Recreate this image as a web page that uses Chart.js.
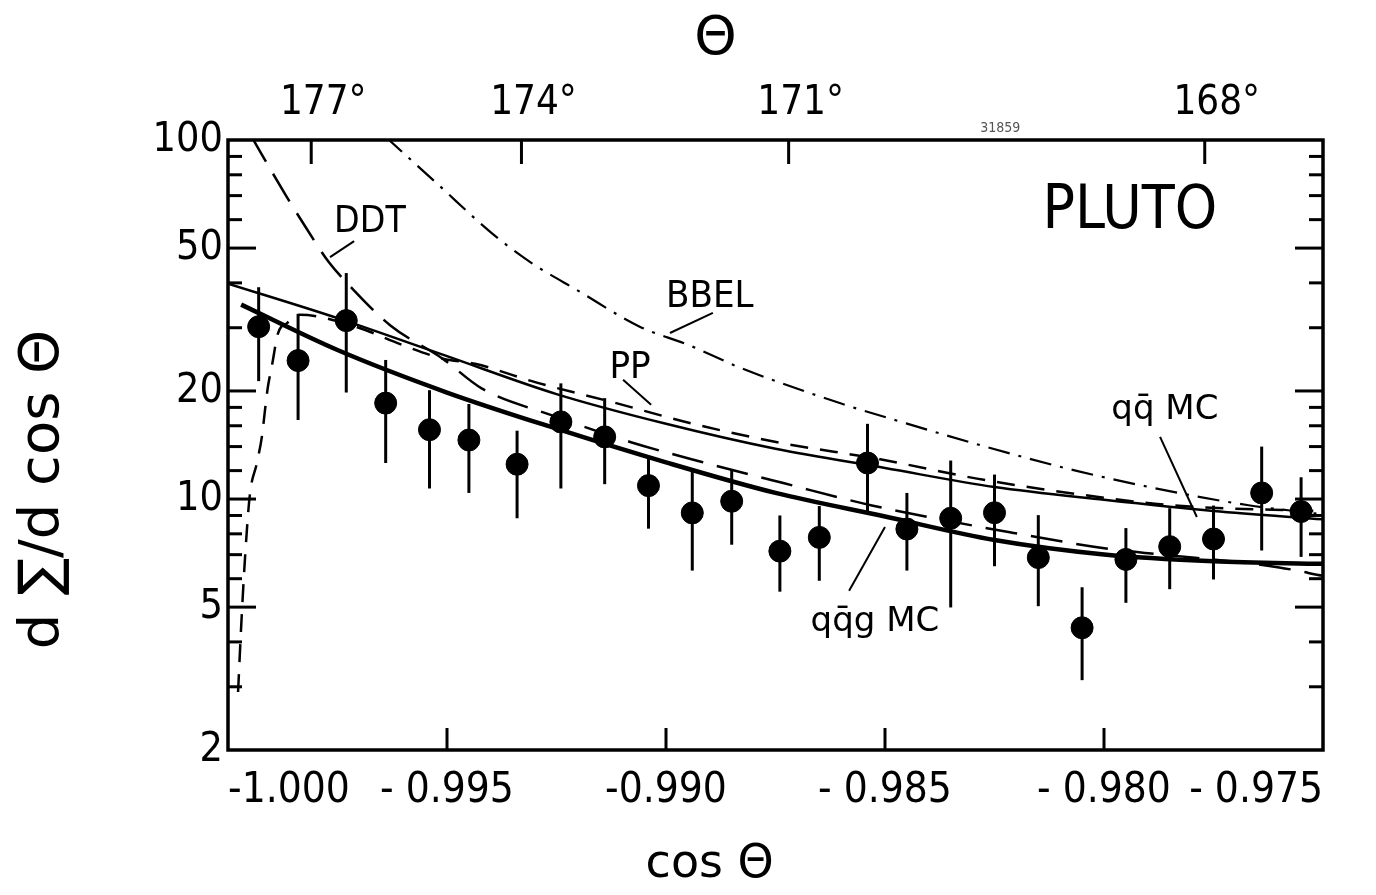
<!DOCTYPE html>
<html><head><meta charset="utf-8">
<script src="https://cdn.jsdelivr.net/npm/chart.js@4.4.1/dist/chart.umd.min.js"></script>
<style>html,body{margin:0;padding:0;background:#fff;}</style>
</head><body>
<canvas id="c" width="1376" height="895"></canvas>
<script>
// ---- data points (PLUTO) ----
const cosTheta = [-0.9993, -0.9984, -0.9973, -0.9964, -0.9954, -0.9945, -0.9934, -0.9924, -0.9914, -0.9904, -0.9894, -0.9885, -0.9874, -0.9865, -0.9854, -0.9845, -0.9835, -0.9825, -0.9815, -0.9805, -0.9795, -0.9785, -0.9775, -0.9764, -0.9755];
const sigma    = [30.2, 24.3, 31.4, 18.5, 15.6, 14.6, 12.5, 16.4, 14.9, 10.9, 9.15, 9.86, 7.16, 7.82, 12.6, 8.25, 8.84, 9.16, 6.87, 4.38, 6.79, 7.37, 7.74, 10.4, 9.23];
const errHigh  = [38.9, 32.8, 42.6, 24.4, 20.1, 18.4, 15.5, 21.0, 19.1, 13.2, 11.9, 12.1, 9.0, 9.56, 16.2, 10.4, 12.8, 11.7, 9.02, 5.68, 8.3, 9.43, 9.59, 14.0, 11.5];
const errLow   = [21.3, 16.6, 19.8, 12.6, 10.7, 10.4, 8.84, 10.7, 11.0, 8.27, 6.32, 7.46, 5.52, 5.92, 9.17, 6.32, 4.99, 6.50, 5.03, 3.13, 5.14, 5.61, 5.97, 7.19, 6.90];

// ---- model curves ----
const qqMC_x  = [-1.0, -0.9975, -0.995, -0.9925, -0.990, -0.9875, -0.985, -0.9825, -0.980, -0.9775, -0.975];
const qqMC_y  = [39.8, 31.9, 25.0, 19.6, 16.2, 13.8, 12.2, 10.8, 9.95, 9.26, 8.78];
const qqgMC_x = [-0.9997, -0.9975, -0.995, -0.9925, -0.990, -0.9875, -0.985, -0.9825, -0.980, -0.9775, -0.975];
const qqgMC_y = [34.8, 26.0, 19.8, 15.7, 12.65, 10.4, 8.94, 7.69, 7.01, 6.71, 6.60];
const ddt_x   = [-0.9995, -0.9987, -0.9982, -0.9977, -0.9972, -0.9963, -0.9951, -0.9942, -0.9926, -0.9908, -0.9892, -0.9873, -0.9853, -0.9821, -0.9798, -0.9788, -0.9760, -0.975];
const ddt_y   = [104, 70.8, 56.5, 45.7, 39.0, 30.5, 24.6, 20.3, 17.1, 14.4, 12.7, 11.06, 9.6, 8.06, 7.24, 7.03, 6.45, 6.11];
const bbel_x  = [-0.9964, -0.9952, -0.9940, -0.9931, -0.9920, -0.9906, -0.9895, -0.9883, -0.9860, -0.9847, -0.9828, -0.9806, -0.9783, -0.9767, -0.9752, -0.975];
const bbel_y  = [102, 75.1, 55.3, 45.7, 38.0, 30.2, 26.9, 23.2, 18.45, 16.5, 14.1, 11.96, 10.4, 9.61, 9.12, 9.05];
const pp_x    = [-0.99977, -0.9997, -0.99961, -0.9995, -0.99934, -0.99922, -0.99916, -0.99909, -0.999, -0.99886, -0.99865, -0.99836, -0.99705, -0.99607, -0.99509, -0.99436, -0.99295, -0.99121, -0.98938, -0.9874, -0.98511, -0.9829, -0.98055, -0.97842, -0.975];
const pp_y    = [2.9, 4.4, 6.9, 10.3, 12.6, 15.1, 17.5, 20.5, 23.4, 28.9, 30.9, 32.6, 30.1, 27.0, 24.6, 23.8, 21.1, 18.6, 16.2, 14.35, 12.9, 11.4, 10.3, 9.6, 9.25];

// ---- axes ----
const xTickValues = [-1.000, -0.995, -0.990, -0.985, -0.980, -0.975];
const xTickLabels = ['-1.000', '- 0.995', '-0.990', '- 0.985', '- 0.980', '- 0.975'];
const thetaTickPos = [-0.9981, -0.9933, -0.9872, -0.9777];
const thetaTickLabels = ['177°', '174°', '171°', '168°'];
const yTickValues = [2,3,4,5,6,7,8,9,10,12,14,16,18,20,30,40,50,60,70,80,90,100];
const yTickLabelled = [2,5,10,20,50,100];

const FONT = "'Liberation Sans Narrow','DejaVu Sans Condensed','Liberation Sans',sans-serif";
const TFONT = "'DejaVu Sans',sans-serif";
const NB = '\u00A0';

const annotations = [
  {text:'DDT', x:-0.99676, y:59.1, size:37},
  {text:'BBEL', x:-0.98900, y:36.5, size:38},
  {text:'PP', x:-0.99082, y:23.2, size:38},
  {text:'qq\u0304 MC', x:-0.97861, y:17.7, size:34, family:TFONT},
  {text:'qq\u0304g MC', x:-0.98523, y:4.55, size:34, family:TFONT},
  {text:'PLUTO', x:-0.97941, y:63.0, size:60},
  {text:'31859', x:-0.98237, y:108, size:14, color:'#555'}
];
const leaders = [
  [-0.99767, 47.2, -0.99712, 52.3],
  [-0.98991, 29.0, -0.98893, 33.0],
  [-0.99098, 21.5, -0.99034, 18.3],
  [-0.97872, 14.9, -0.97788, 8.91],
  [-0.98582, 5.55, -0.98500, 8.36]
];

const pts = (xs, ys) => xs.map((v, i) => ({x: v, y: ys[i]}));

const decor = {
  id: 'decor',
  beforeDatasetsDraw(chart) {
    const {ctx, scales: {x, y}} = chart;
    ctx.save();
    ctx.strokeStyle = '#000'; ctx.lineWidth = 3;
    for (let i = 0; i < cosTheta.length; i++) {
      const px = x.getPixelForValue(cosTheta[i]);
      ctx.beginPath();
      ctx.moveTo(px, y.getPixelForValue(errHigh[i]));
      ctx.lineTo(px, y.getPixelForValue(errLow[i]));
      ctx.stroke();
    }
    ctx.restore();
  },
  afterDatasetsDraw(chart) {
    const {ctx, chartArea: a, scales: {x, y, xTop}} = chart;
    const line = (x1, y1, x2, y2) => { ctx.beginPath(); ctx.moveTo(x1, y1); ctx.lineTo(x2, y2); ctx.stroke(); };
    ctx.save();
    ctx.strokeStyle = '#000'; ctx.lineWidth = 3.5;
    ctx.strokeRect(a.left, a.top, a.right - a.left, a.bottom - a.top);
    ctx.lineWidth = 3;
    yTickValues.forEach(v => {
      if (v <= 2 || v >= 100) return;
      const py = y.getPixelForValue(v);
      const len = yTickLabelled.includes(v) ? 28 : 14;
      line(a.left, py, a.left + len, py);
      line(a.right, py, a.right - len, py);
    });
    xTickValues.slice(1, -1).forEach(v => { const px = x.getPixelForValue(v); line(px, a.bottom, px, a.bottom - 22); });
    thetaTickPos.forEach(v => { const px = xTop.getPixelForValue(v); line(px, a.top, px, a.top + 24); });
    ctx.lineWidth = 2;
    leaders.forEach(l => line(x.getPixelForValue(l[0]), y.getPixelForValue(l[1]), x.getPixelForValue(l[2]), y.getPixelForValue(l[3])));
    ctx.textAlign = 'center'; ctx.textBaseline = 'middle';
    annotations.forEach(t => {
      ctx.fillStyle = t.color || '#000';
      ctx.font = `${t.size}px ${t.family || FONT}`;
      ctx.fillText(t.text, x.getPixelForValue(t.x), y.getPixelForValue(t.y));
    });
    ctx.restore();
  }
};

const curve = (xs, ys, w, dash) => ({
  type: 'line', data: pts(xs, ys), borderColor: '#000', borderWidth: w, borderDash: dash,
  pointRadius: 0, fill: false, cubicInterpolationMode: 'monotone', xAxisID: 'x', yAxisID: 'y'
});

new Chart(document.getElementById('c'), {
  data: {
    datasets: [
      {type: 'scatter', data: pts(cosTheta, sigma), pointRadius: 11, pointHoverRadius: 11,
       backgroundColor: '#000', borderColor: '#000', xAxisID: 'x', yAxisID: 'y'},
      curve(qqMC_x, qqMC_y, 2.5, []),
      curve(qqgMC_x, qqgMC_y, 4.5, []),
      curve(pp_x, pp_y, 2.5, [18, 12]),
      curve(ddt_x, ddt_y, 2.5, [32, 14]),
      curve(bbel_x, bbel_y, 2.2, [22, 9, 3, 9])
    ]
  },
  options: {
    responsive: false, animation: false, devicePixelRatio: 1,
    layout: {padding: {left: 0, right: 53, top: 0, bottom: 0}},
    plugins: {legend: {display: false}, tooltip: {enabled: false}},
    scales: {
      x: {
        type: 'linear', position: 'bottom', min: -1.0, max: -0.975,
        afterBuildTicks: s => { s.ticks = xTickValues.map(v => ({value: v})); },
        ticks: {callback: (v, i) => xTickLabels[i], color: '#000', align: 'inner',
                font: {family: FONT, size: 42}, padding: 16, maxRotation: 0, autoSkip: false},
        grid: {display: false, drawTicks: false}, border: {display: false},
        title: {display: true, text: 'cos Θ' + NB.repeat(9), color: '#000', font: {family: TFONT, size: 46}, padding: {top: 0, bottom: 2}},
        afterFit: s => { s.height = 145; s.paddingLeft = 0; s.paddingRight = 0; }
      },
      xTop: {
        type: 'linear', position: 'top', min: -1.0, max: -0.975,
        afterBuildTicks: s => { s.ticks = thetaTickPos.map(v => ({value: v})); },
        ticks: {callback: (v, i) => thetaTickLabels[i], color: '#000', labelOffset: 12,
                font: {family: FONT, size: 40}, padding: 12, maxRotation: 0, autoSkip: false},
        grid: {display: false, drawTicks: false}, border: {display: false},
        title: {display: true, text: 'Θ' + NB.repeat(7), color: '#000', font: {family: TFONT, size: 54}, padding: {top: 8, bottom: 0}},
        afterFit: s => { s.height = 140; s.paddingLeft = 0; s.paddingRight = 0; }
      },
      y: {
        type: 'logarithmic', position: 'left', min: 2, max: 100,
        afterBuildTicks: s => { s.ticks = yTickValues.map(v => ({value: v})); },
        ticks: {callback: v => yTickLabelled.includes(v) ? String(v) : '', color: '#000',
                font: {family: FONT, size: 41}, padding: 5, autoSkip: false},
        grid: {display: false, drawTicks: false}, border: {display: false},
        title: {display: true, text: 'd' + NB + '∑/d cos' + NB + 'Θ' + NB.repeat(5), color: '#000', font: {family: TFONT, size: 56}, padding: {top: 10, bottom: 0}},
        afterFit: s => { s.width = 228; s.paddingTop = 0; s.paddingBottom = 0; }
      }
    }
  },
  plugins: [decor]
});
</script>
</body></html>
